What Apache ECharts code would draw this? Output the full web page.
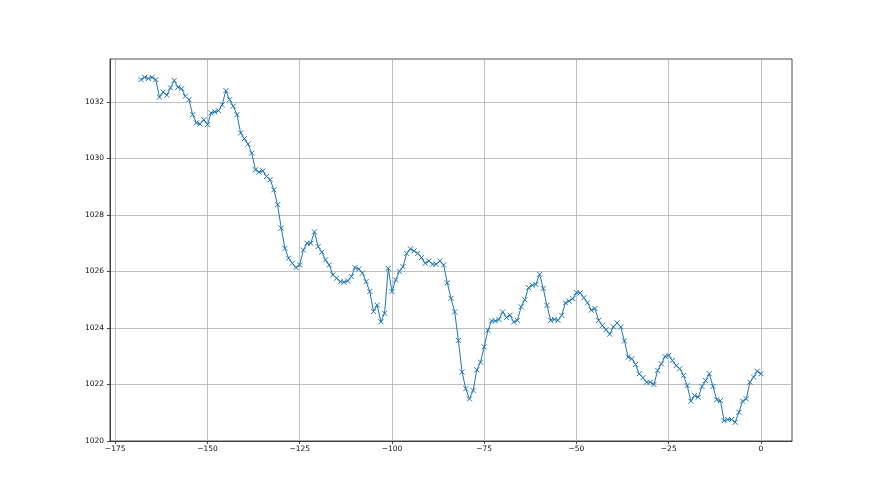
<!DOCTYPE html>
<html>
<head>
<meta charset="utf-8">
<script src="https://cdn.jsdelivr.net/npm/echarts@6/dist/echarts.min.js"></script>
<style>html,body{margin:0;padding:0;background:#fff}#c{width:880px;height:495px}</style>
</head>
<body>
<div id="c"></div>
<script>
// hours relative to now, hourly samples from -168 to 0
var startHour = -168;
var pressure = [
  1032.79, 1032.87, 1032.83, 1032.87, 1032.79, 1032.17, 1032.35, 1032.24, 1032.5, 1032.76,
  1032.52, 1032.47, 1032.2, 1032.08, 1031.55, 1031.26, 1031.22, 1031.37, 1031.2, 1031.61,
  1031.65, 1031.69, 1031.9, 1032.4, 1032.08, 1031.85, 1031.55, 1030.9, 1030.7, 1030.51,
  1030.19, 1029.6, 1029.52, 1029.56, 1029.36, 1029.25, 1028.89, 1028.36, 1027.53, 1026.82,
  1026.47, 1026.29, 1026.14, 1026.23, 1026.76, 1027.0, 1027.0, 1027.4, 1026.88, 1026.68,
  1026.41, 1026.23, 1025.88, 1025.76, 1025.64, 1025.62, 1025.66, 1025.82, 1026.14, 1026.09,
  1025.94, 1025.64, 1025.29, 1024.58, 1024.81, 1024.22, 1024.52, 1026.11, 1025.29, 1025.7,
  1026.0, 1026.17, 1026.64, 1026.8, 1026.73, 1026.64, 1026.49, 1026.29, 1026.37, 1026.26,
  1026.26, 1026.37, 1026.23, 1025.6, 1025.05,
  1024.57, 1023.56, 1022.44, 1021.85, 1021.49, 1021.79, 1022.52, 1022.79, 1023.33, 1023.92,
  1024.25, 1024.25, 1024.3, 1024.57, 1024.37, 1024.45, 1024.21, 1024.27, 1024.75, 1025.0,
  1025.43, 1025.51, 1025.54, 1025.9, 1025.4, 1024.8, 1024.27, 1024.3, 1024.27, 1024.45,
  1024.89, 1024.95, 1025.04, 1025.25, 1025.24, 1025.07, 1024.89, 1024.63, 1024.69, 1024.27,
  1024.09, 1023.94, 1023.78, 1024.04, 1024.18, 1024.04, 1023.54, 1022.97, 1022.91, 1022.71,
  1022.38, 1022.24, 1022.08, 1022.08, 1022.0, 1022.5, 1022.73, 1022.99, 1023.03, 1022.85,
  1022.67, 1022.56, 1022.32, 1021.96, 1021.41, 1021.61, 1021.55, 1021.93, 1022.14, 1022.38,
  1021.93, 1021.46, 1021.43, 1020.72, 1020.76, 1020.76, 1020.66, 1021.02, 1021.41, 1021.49,
  1022.08, 1022.26, 1022.47, 1022.38
];
var xTicks = [-175, -150, -125, -100, -75, -50, -25, 0];
var yTicks = [1020, 1022, 1024, 1026, 1028, 1030, 1032];

var points = [];
for (var i = 0; i < pressure.length; i++) {
  points.push([startHour + i, pressure[i]]);
}

var font = 'DejaVu Sans';
var chart = echarts.init(document.getElementById('c'), null, {renderer: 'canvas'});
chart.setOption({
  animation: false,
  backgroundColor: '#fff',
  grid: {left: 110, right: 88, top: 59, bottom: 54, show: true, borderColor: '#222', borderWidth: 0.8, backgroundColor: '#fff'},
  xAxis: {
    type: 'value', min: -176.4, max: 8.4,
    axisLine: {show: true, onZero: false, lineStyle: {color: '#222', width: 0.8}},
    axisTick: {show: true, length: 3, lineStyle: {color: '#222', width: 0.8}, customValues: xTicks},
    axisLabel: {color: '#111', fontFamily: font, fontSize: 7.5, margin: 4, customValues: xTicks,
      formatter: function (v) { return String(v).replace('-', '\u2212'); }},
    splitLine: {show: true, lineStyle: {color: '#b0b0b0', width: 0.8}}
  },
  yAxis: {
    type: 'value', min: 1020, max: 1033.52,
    axisLine: {show: true, onZero: false, lineStyle: {color: '#222', width: 0.8}},
    axisTick: {show: true, length: 3, lineStyle: {color: '#222', width: 0.8}, customValues: yTicks},
    axisLabel: {color: '#111', fontFamily: font, fontSize: 7.5, margin: 6, customValues: yTicks,
      formatter: function (v) { return String(v); }},
    splitLine: {show: true, lineStyle: {color: '#b0b0b0', width: 0.8}}
  },
  series: [{
    type: 'line',
    data: points,
    showAllSymbol: true,
    symbol: 'path://M0,0L10,10M10,0L0,10',
    symbolSize: 5,
    itemStyle: {color: 'none', borderColor: '#1f77b4', borderWidth: 1},
    lineStyle: {color: '#1f77b4', width: 1},
    z: 3
  }]
});
</script>
</body>
</html>
